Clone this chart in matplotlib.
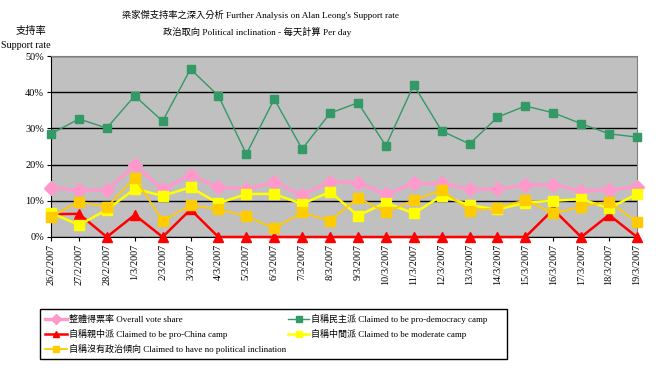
import matplotlib
matplotlib.use("Agg")
import matplotlib.pyplot as plt
from matplotlib.patches import Rectangle
from matplotlib.ticker import FuncFormatter

# ── Data (support rate, %) ───────────────────────────────────────────────────

dates = ["26/2/2007", "27/2/2007", "28/2/2007", "1/3/2007", "2/3/2007", "3/3/2007",
         "4/3/2007", "5/3/2007", "6/3/2007", "7/3/2007", "8/3/2007", "9/3/2007",
         "10/3/2007", "11/3/2007", "12/3/2007", "13/3/2007", "14/3/2007", "15/3/2007",
         "16/3/2007", "17/3/2007", "18/3/2007", "19/3/2007"]

overall    = [13.6, 12.9, 12.9, 19.9, 13.2, 17.1, 13.8, 13.2, 15.1, 11.6, 15.3,
              15.0, 11.8, 14.8, 14.8, 13.2, 13.2, 14.4, 14.4, 12.8, 12.9, 13.9]
pro_dem    = [28.5, 32.6, 30.1, 39.0, 32.0, 46.4, 39.0, 22.9, 38.1, 24.3, 34.2,
              37.1, 25.2, 42.0, 29.3, 25.7, 33.1, 36.2, 34.3, 31.3, 28.5, 27.6]
pro_china  = [6.3, 6.4, 0.0, 6.1, 0.0, 7.6, 0.0, 0.0, 0.0, 0.0, 0.0,
              0.0, 0.0, 0.0, 0.0, 0.0, 0.0, 0.0, 7.6, 0.0, 6.1, 0.0]
moderate   = [6.7, 3.3, 7.5, 13.3, 11.4, 13.7, 9.3, 11.9, 11.9, 9.1, 12.5,
              5.9, 9.5, 6.5, 11.4, 8.8, 7.6, 9.5, 10.0, 10.5, 7.9, 11.9]
no_incline = [5.6, 9.8, 8.2, 16.4, 4.4, 8.8, 7.6, 5.8, 2.4, 6.8, 4.4,
              10.9, 6.8, 10.2, 13.0, 7.2, 8.1, 10.2, 6.5, 8.4, 9.8, 4.1]

labels = ["整體得票率 Overall vote share",
          "自稱民主派 Claimed to be pro-democracy camp",
          "自稱親中派 Claimed to be pro-China camp",
          "自稱中間派 Claimed to be moderate camp",
          "自稱沒有政治傾向 Claimed to have no political inclination"]

# ── Plotting ──────────────────────────────────────────────────────────────────

FONT = ["Liberation Serif", "Noto Sans CJK TC"]
plt.rcParams["font.family"] = FONT

fig = plt.figure(figsize=(6.61, 3.68), dpi=100)
ax = fig.add_axes([51 / 661, 1 - 237 / 368, 586 / 661, 181 / 368])
ax.set_facecolor("#C0C0C0")

x = range(len(dates))
h_all = ax.plot(x, overall, color="#FF99CC", lw=2.4, marker="D", ms=7,
                mec="#FF99CC", clip_on=False, zorder=3)[0]
h_dem = ax.plot(x, pro_dem, color="#339966", lw=1.0, marker="s", ms=6,
                mec="#339966", clip_on=False, zorder=3)[0]
h_chn = ax.plot(x, pro_china, color="#FF0000", lw=1.8, marker="^", ms=7,
                mec="#FF0000", clip_on=False, zorder=3)[0]
h_mod = ax.plot(x, moderate, color="#FFFF00", lw=1.8, marker="s", ms=7,
                mec="#FFFF00", clip_on=False, zorder=3)[0]
h_non = ax.plot(x, no_incline, color="#FFCC00", lw=1.3, marker="s", ms=7,
                mec="#FFCC00", clip_on=False, zorder=3)[0]

ax.set_xlim(0, len(dates) - 1)
ax.set_ylim(0, 50)
ax.set_yticks(range(0, 51, 10))
ax.yaxis.set_major_formatter(FuncFormatter(lambda v, _: f"{v:.0f}%"))
ax.grid(axis="y", color="black", lw=1.0)
ax.set_axisbelow(True)
ax.set_xticks(list(x))
ax.set_xticklabels(dates, rotation=90, fontsize=7.3)
ax.tick_params(axis="y", labelsize=7.4, length=3, pad=2)
ax.tick_params(axis="x", length=3, pad=2)
for s in ("top", "right"):
    ax.spines[s].set_color("#808080")
for s in ("left", "bottom"):
    ax.spines[s].set_color("black")

fig.text(261 / 661, 1 - 15 / 368, "梁家傑支持率之深入分析 Further Analysis on Alan Leong's Support rate",
         ha="center", va="center", fontsize=6.7)
fig.text(257 / 661, 1 - 32 / 368, "政治取向 Political inclination - 每天計算 Per day",
         ha="center", va="center", fontsize=6.7)
fig.text(31 / 661, 1 - 31 / 368, "支持率", ha="center", va="center", fontsize=7.4)
fig.text(26 / 661, 1 - 45 / 368, "Support rate", ha="center", va="center", fontsize=7.2)

fig.patches.append(Rectangle((40 / 661, 1 - 359 / 368), 467 / 661, 50 / 368,
                             transform=fig.transFigure, fill=False,
                             edgecolor="black", lw=1.0))
fig.legend([h_all, h_chn, h_non, h_dem, h_mod],
           [labels[0], labels[2], labels[4], labels[1], labels[3]],
           ncol=2, loc="upper left", bbox_to_anchor=(39 / 661, 1 - 308 / 368),
           frameon=False, fontsize=6.5, handlelength=2.4, handletextpad=0.2,
           columnspacing=0.2, labelspacing=0.55, borderpad=0.2, markerscale=0.7)

fig.savefig("out.png", dpi=100)
